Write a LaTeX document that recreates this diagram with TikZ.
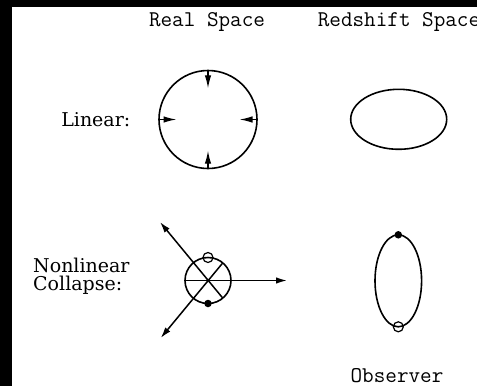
\documentclass[tikz,border=0pt]{standalone}
\usepackage{fontspec}
\newfontfamily\labfont{DejaVu Serif}
\usetikzlibrary{arrows.meta,shapes.geometric}
\begin{document}
\begin{tikzpicture}[x=1pt,y=-1pt,
  title/.style={font=\ttfamily\fontsize{22.5}{27}\selectfont, anchor=base, inner sep=0pt},
  lab/.style={font=\labfont\fontsize{19}{23}\selectfont, inner sep=0pt},
  ring/.style={circle, draw, line width=1.6pt, inner sep=0pt, outer sep=0pt},
  oval/.style={ellipse, draw, line width=1.6pt, inner sep=0pt, outer sep=0pt},
  inarrow/.style={line width=1.3pt, -{Latex[length=13pt,width=6.5pt]}},
  outarrow/.style={line width=1.5pt, -{Latex[length=11pt,width=6.5pt]}},
  opendot/.style={circle, draw, line width=1.2pt, minimum size=10pt, inner sep=0pt},
  fulldot/.style={circle, fill, minimum size=7.5pt, inner sep=0pt}]
\useasboundingbox (0,0) rectangle (477,386);
\fill[black] (0,0) rectangle (477,386);
\fill[white] (12,6.7) rectangle (477,386);
% titles
\node[title] (rs) at (207,26.7) {Real Space};
\node[title] (zs) at (399,26.7) {Redshift Space};
\node[title] (ob) at (397,382.3) {Observer};
% labels
\node[lab, anchor=base east] (lin) at (130.5,126.7) {Linear:};
\node[lab, anchor=base west] (nl) at (33,272.7) {Nonlinear};
\node[lab, anchor=base west] (co) at (33,290.7) {Collapse:};
% linear, real space
\node[ring, minimum size=98pt] (c1) at (208,119.5) {};
\coordinate (t1n) at (208,88.3);
\coordinate (t1s) at (208,150.7);
\coordinate (t1w) at (176.5,119.5);
\coordinate (t1e) at (239.5,119.5);
\draw[inarrow] (c1.north) -- (t1n);
\draw[inarrow] (c1.south) -- (t1s);
\draw[inarrow] (c1.west) -- (t1w);
\draw[inarrow] (c1.east) -- (t1e);
% linear, redshift space
\node[oval, minimum width=96pt, minimum height=60pt] (e1) at (398.7,119.3) {};
% nonlinear, real space
\node[ring, minimum size=46pt] (c2) at (208,280.5) {};
\coordinate (tipR) at (287,280.5);
\coordinate (tipUL) at (160,222);
\coordinate (tipLL) at (160.7,338);
\draw[outarrow] (c2.west) -- (tipR);
\draw[outarrow] (c2.-50.6) -- (tipUL);
\draw[outarrow] (c2.50.6) -- (tipLL);
\node[opendot] (o1) at (c2.north) {};
\node[fulldot] (d1) at (c2.south) {};
% nonlinear, redshift space
\node[oval, minimum width=46.6pt, minimum height=92pt] (e2) at (398.3,280.8) {};
\node[fulldot] (d2) at (e2.north) {};
\node[opendot] (o2) at (e2.south) {};
\end{tikzpicture}
\end{document}
